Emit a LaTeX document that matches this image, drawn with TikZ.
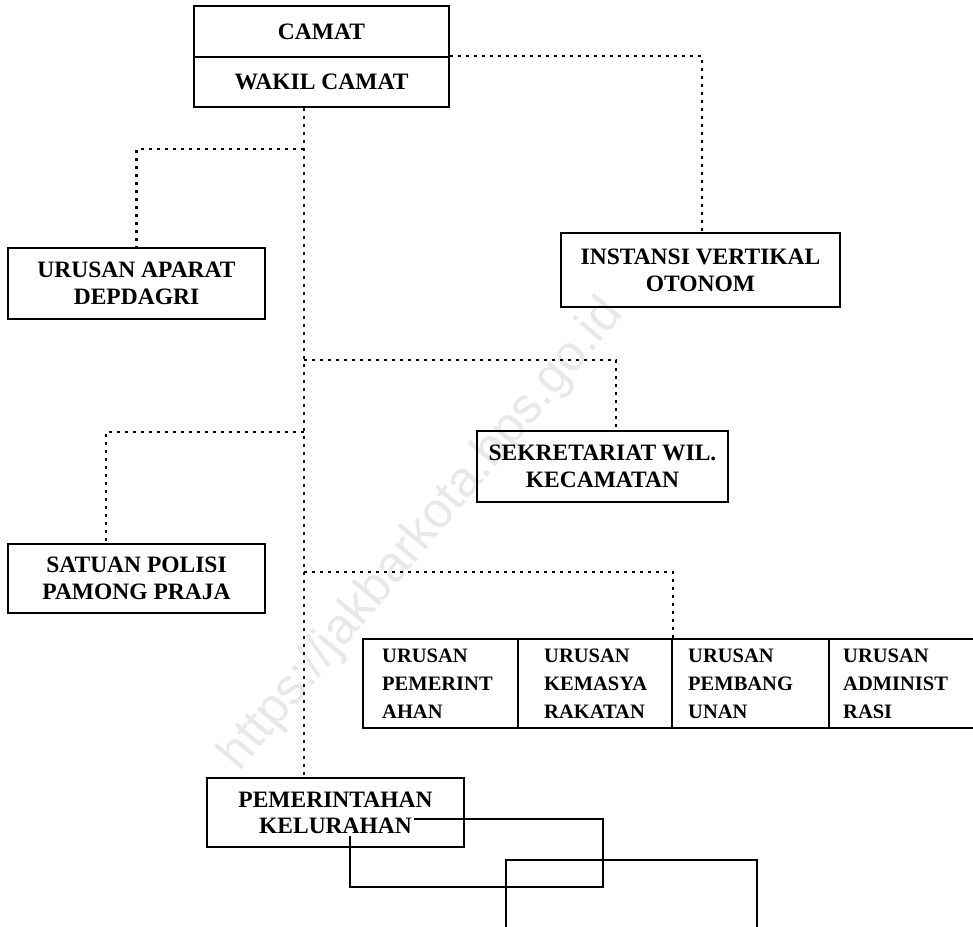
\documentclass[tikz,border=0pt]{standalone}
\usepackage{fontspec}
\setmainfont{Liberation Serif}
\setsansfont{Liberation Sans}
\begin{document}
\begin{tikzpicture}[x=1pt,y=-1pt,
  box/.style={draw, line width=1.8pt, inner sep=0pt, align=center,
    font=\fontsize{23.5}{27}\selectfont\bfseries},
  frame/.style={draw, line width=1.8pt, inner sep=0pt},
  cell/.style={draw, line width=1.8pt, inner sep=0pt, minimum width=155pt, minimum height=89pt},
  celltext/.style={anchor=west, align=left, inner sep=0pt,
    font=\fontsize{20.5}{28}\selectfont\bfseries},
  boxtext/.style={inner sep=0pt, font=\fontsize{23.5}{27}\selectfont\bfseries},
  dotline/.style={line width=2.4pt, dash pattern=on 3pt off 5pt},
  solidline/.style={line width=1.8pt}]
\useasboundingbox (0,0) rectangle (973,926);
\clip (0,0) rectangle (973,926);

% watermark
\node[rotate=50, text=black!9, font=\sffamily\fontsize{50}{50}\selectfont] (wm) at (422,535) {https://jakbarkota.bps.go.id};

% boxes
\node[box, minimum width=255pt, minimum height=51pt] (camat) at (321.5,31.5) {CAMAT};
\node[box, minimum width=255pt, minimum height=50pt] (wakil) at (321.5,82) {WAKIL CAMAT};
\node[box, minimum width=257pt, minimum height=71pt] (apa) at (136.5,283.5) {URUSAN APARAT\\DEPDAGRI};
\node[box, minimum width=279pt, minimum height=74pt] (inst) at (700.5,270) {INSTANSI VERTIKAL\\OTONOM};
\node[box, minimum width=251pt, minimum height=71pt] (sek) at (602.5,466.5) {SEKRETARIAT WIL.\\KECAMATAN};
\node[box, minimum width=257pt, minimum height=69pt] (sat) at (136.5,578.5) {SATUAN POLISI\\PAMONG PRAJA};

% urusan row
\node[cell] (u1) at (440.5,683.5) {};
\node[cell, minimum width=154pt] (u2) at (595,683.5) {};
\node[cell, minimum width=157pt] (u3) at (750.5,683.5) {};
\node[cell] (u4) at (906.5,683.5) {};
\node[celltext] (t1) at (382,683.5) {URUSAN\\PEMERINT\\AHAN};
\node[celltext] (t2) at (544,683.5) {URUSAN\\KEMASYA\\RAKATAN};
\node[celltext] (t3) at (688,683.5) {URUSAN\\PEMBANG\\UNAN};
\node[celltext] (t4) at (843,683.5) {URUSAN\\ADMINIST\\RASI};

% overlapping open frames near the bottom
\draw[solidline] (350,819) rectangle (603,887);
\draw[solidline] (506,935) -- (506,860) -- (757,860) -- (757,935);

% pemerintahan kelurahan
\node[frame, minimum width=257pt, minimum height=69pt] (pk) at (335.5,812.5) {};
\node[boxtext] (pk1) at (335.5,800) {PEMERINTAHAN};
\node[boxtext, fill=white, inner sep=2pt] (pk2) at (335.5,826) {KELURAHAN};

% connectors
\coordinate (tA) at (304,149);
\coordinate (tB) at (304,360);
\coordinate (tC) at (304,432);
\coordinate (tD) at (304,572);
\draw[dotline] (wakil.south -| tA) -- (pk.north -| tA);
\draw[dotline] (tA) -| (apa.north);
\draw[dotline] (wakil.north east) -| ([xshift=1.5pt]inst.north);
\draw[dotline] (tB) -| ([xshift=13.5pt]sek.north);
\draw[dotline] (tC) -| ([xshift=-30.5pt]sat.north);
\draw[dotline] (tD) -| (u2.north east);
\end{tikzpicture}
\end{document}
